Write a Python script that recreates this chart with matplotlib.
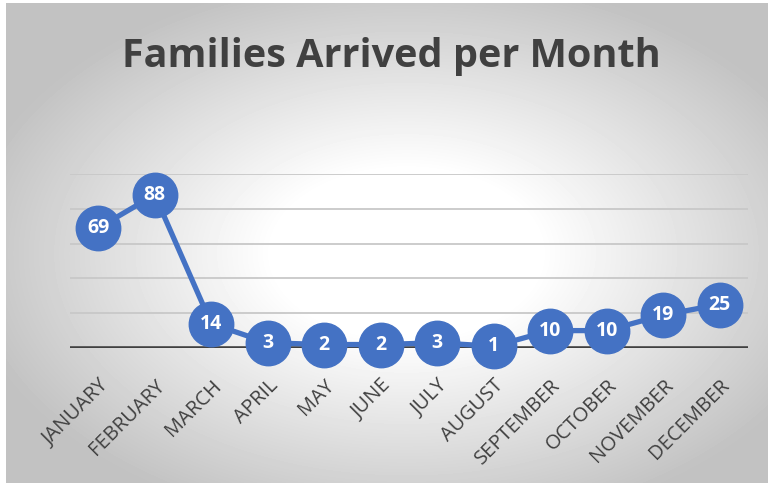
import numpy as np
import matplotlib
matplotlib.use("Agg")
import matplotlib.pyplot as plt

months = ["JANUARY", "FEBRUARY", "MARCH", "APRIL", "MAY", "JUNE", "JULY",
          "AUGUST", "SEPTEMBER", "OCTOBER", "NOVEMBER", "DECEMBER"]
families = [69, 88, 14, 3, 2, 2, 3, 1, 10, 10, 19, 25]

blue = "#4472C4"
dark = "#404040"

fig = plt.figure(figsize=(7.68, 4.83), dpi=100)
fig.patch.set_facecolor("white")

# radial gray-to-white background
bg = fig.add_axes([6 / 768, 0, 1 - 6 / 768, 1 - 3 / 483])
h, w = 480, 762
yy, xx = np.mgrid[0:h, 0:w]
r = np.sqrt(((xx - 400) / (w / 2)) ** 2 + ((yy - 250) / (h / 2)) ** 2)
shade = 1 - 0.19 * np.clip((r - 0.35) / 0.65, 0, None)
shade = np.clip(shade, 0.76, 1)
bg.imshow(shade, cmap="gray", vmin=0, vmax=1, aspect="auto", interpolation="bilinear")
bg.set_axis_off()

ax = fig.add_axes([70 / 768, 1 - 348 / 483, 678 / 768, 174 / 483])
ax.patch.set_alpha(0)
x = np.arange(len(months))

for v in [20, 40, 60, 80, 100]:
    ax.axhline(v, color="#c8c8c8", lw=1.3, zorder=1)
ax.axhline(0, color=dark, lw=3.3, zorder=2)

ax.plot(x, families, color=blue, lw=3.8, marker="o", markersize=32,
        markerfacecolor=blue, markeredgecolor=blue, clip_on=False, zorder=3)
for xi, v in zip(x, families):
    ax.text(xi, v, str(v), ha="center", va="center", color="white",
            fontsize=14, fontweight="bold", fontfamily="Open Sans", zorder=4)

ax.set_xlim(-0.5, 11.5)
ax.set_ylim(0, 100)
ax.set_yticks([])
ax.set_xticks(x)
ax.set_xticklabels(months, rotation=45, ha="right", va="top",
                   rotation_mode="anchor", fontsize=14.5, color=dark,
                   fontfamily="Open Sans")
ax.tick_params(axis="x", length=0, pad=20)
for s in ax.spines.values():
    s.set_visible(False)

fig.text(391 / 768, 1 - 56 / 483, "Families Arrived per Month", ha="center",
         va="center", fontsize=28.5, fontweight="bold", color=dark,
         fontfamily="Open Sans")

fig.savefig("out.png", dpi=100)
